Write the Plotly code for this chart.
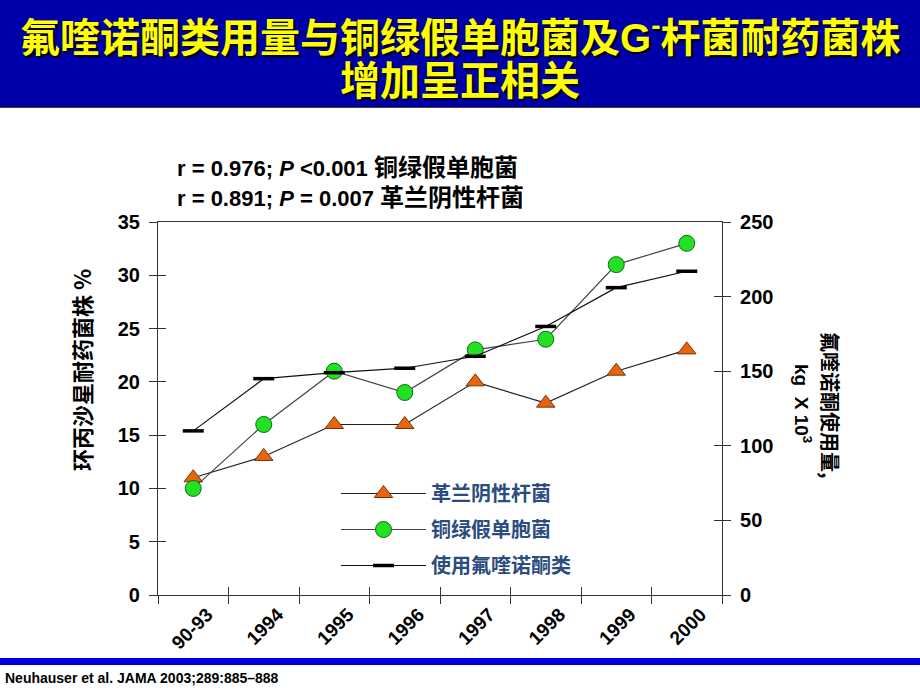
import plotly.graph_objects as go

categories = ["90-93", "1994", "1995", "1996", "1997", "1998", "1999", "2000"]
gram_negative = [11, 13, 16, 16, 20, 18, 21, 23]
pseudomonas = [10, 16, 21, 19, 23, 24, 31, 33]
fq_usage = [110, 145, 149, 152, 160, 180, 206, 217]

left_ticks = [0, 5, 10, 15, 20, 25, 30, 35]
right_ticks = [0, 50, 100, 150, 200, 250]

names = ["革兰阴性杆菌", "铜绿假单胞菌", "使用氟喹诺酮类"]

W, H = 920, 690
FONT = "Liberation Sans, Arial, Noto Sans CJK SC"
CJK = "Noto Sans CJK SC, Liberation Sans"

def px(x):
    return x / W

def py(y):
    return 1 - y / H

fig = go.Figure()

fig.add_trace(go.Scatter(
    x=categories, y=gram_negative, name=names[0], legendgroup="g1",
    mode="lines+markers",
    line=dict(color="#222222", width=1.2),
    marker=dict(symbol="triangle-up", size=16, color="#E8650F",
                line=dict(color="#7A3300", width=1)),
))
fig.add_trace(go.Scatter(
    x=categories, y=pseudomonas, name=names[1], legendgroup="g2",
    mode="lines+markers",
    line=dict(color="#444444", width=1.2),
    marker=dict(symbol="circle", size=16, color="#22E022",
                line=dict(color="#0A6A0A", width=1)),
))
fig.add_trace(go.Scatter(
    x=categories, y=fq_usage, name=names[2], legendgroup="g3",
    yaxis="y2", mode="lines+markers",
    line=dict(color="#111111", width=1.2),
    marker=dict(symbol="line-ew", size=15, color="black",
                line=dict(color="black", width=3.5)),
))
# helper traces so that the inner-tick overlay axes are created
fig.add_trace(go.Scatter(x=[], y=[], xaxis="x2", yaxis="y", showlegend=False, hoverinfo="skip"))
fig.add_trace(go.Scatter(x=categories, y=[None]*len(categories), yaxis="y3", showlegend=False, hoverinfo="skip"))
fig.add_trace(go.Scatter(x=categories, y=[None]*len(categories), yaxis="y4", showlegend=False, hoverinfo="skip"))

xdom = [px(158), px(722)]
ydom = [py(595), py(222)]

axis_common = dict(showgrid=False, zeroline=False, showline=True,
                   linecolor="#333333", linewidth=1.2, tickcolor="#333333",
                   tickwidth=1.2, ticklen=8, automargin=False)

fig.update_layout(
    width=W, height=H, autosize=False,
    margin=dict(l=0, r=0, t=0, b=0, pad=0),
    paper_bgcolor="white", plot_bgcolor="white",
    font=dict(family=FONT, color="black"),
    showlegend=True,
    legend=dict(x=px(336), y=py(474), xanchor="left", yanchor="top",
                bgcolor="rgba(0,0,0,0)", tracegroupgap=7, itemwidth=85,
                font=dict(family=CJK, size=20, color="#2B4C7E", weight="bold")),
    xaxis=dict(domain=xdom, type="category", range=[-0.5, 7.5],
               tickson="boundaries", ticks="outside", tickangle=-45,
               ticklabelshift=14,
               tickfont=dict(family=FONT, size=19, weight="bold"),
               mirror=True, anchor="y", **axis_common),
    xaxis2=dict(domain=xdom, overlaying="x", anchor="y", range=[-0.5, 7.5],
                tickvals=[i - 0.5 for i in range(len(categories) + 1)],
                ticks="inside", showticklabels=False, **axis_common),
    yaxis=dict(domain=ydom, range=[0, 35], tickvals=left_ticks, ticks="outside",
               tickfont=dict(family=FONT, size=20, weight="bold"),
               anchor="x", ticklabelstandoff=5, **axis_common),
    yaxis2=dict(domain=ydom, range=[0, 250], tickvals=right_ticks, ticks="outside",
                overlaying="y", side="right", anchor="x",
                tickfont=dict(family=FONT, size=20, weight="bold"),
                ticklabelstandoff=5, **axis_common),
    yaxis3=dict(domain=ydom, range=[0, 35], tickvals=left_ticks, ticks="inside",
                overlaying="y", side="left", anchor="x", showticklabels=False,
                **axis_common),
    yaxis4=dict(domain=ydom, range=[0, 250], tickvals=right_ticks, ticks="inside",
                overlaying="y", side="right", anchor="x", showticklabels=False,
                **axis_common),
)

shapes = [
    dict(type="rect", xref="paper", yref="paper", x0=0, x1=1, y0=py(107), y1=1,
         fillcolor="#0000AA", line=dict(width=0), layer="below"),
    dict(type="line", xref="paper", yref="paper", x0=0, x1=1, y0=py(107), y1=py(107),
         line=dict(color="#000044", width=1.5)),
    dict(type="rect", xref="paper", yref="paper", x0=0, x1=1, y0=py(665), y1=py(658),
         fillcolor="#0000DD", line=dict(width=0), layer="below"),
]
fig.update_layout(shapes=shapes)

title_font = dict(family=FONT, size=40, color="#FFFF00", weight="bold",
                  shadow="2px 2px 2px #000000")
anns = [
    dict(text="氟喹诺酮类用量与铜绿假单胞菌及G<sup>-</sup>杆菌耐药菌株",
         x=0.5, y=py(35), font=title_font),
    dict(text="增加呈正相关", x=0.5, y=py(81), font=title_font),
    dict(text="r = 0.976; <i>P</i> &lt;0.001 <span style=\"font-size:24px\">铜绿假单胞菌</span>",
         x=px(175), y=py(167), xanchor="left",
         font=dict(family=FONT, size=22, weight="bold", color="black")),
    dict(text="r = 0.891; <i>P</i> = 0.007 <span style=\"font-size:24px\">革兰阴性杆菌</span>",
         x=px(175), y=py(197), xanchor="left",
         font=dict(family=FONT, size=22, weight="bold", color="black")),
    dict(text="环丙沙星耐药菌株 %", x=px(81), y=py(370), textangle=-90,
         font=dict(family=CJK, size=22, weight="bold", color="black")),
    dict(text="氟喹诺酮使用量,", x=px(831), y=py(405), textangle=90,
         font=dict(family=CJK, size=20, weight="bold", color="black")),
    dict(text="kg  X 10<sup>3</sup>", x=px(803), y=py(403), textangle=90,
         font=dict(family=FONT, size=19, weight="bold", color="black")),
    dict(text="Neuhauser et al. JAMA 2003;289:885–888", x=px(3), y=py(678),
         xanchor="left",
         font=dict(family=FONT, size=14, weight="bold", color="black")),
]
for a in anns:
    a.setdefault("xref", "paper")
    a.setdefault("yref", "paper")
    a.setdefault("showarrow", False)
    a.setdefault("xanchor", "center")
    a.setdefault("yanchor", "middle")
fig.update_layout(annotations=anns)

fig.write_html(
    "out.html",
    config={"displayModeBar": False},
    post_script="document.documentElement.style.margin='0';"
                "document.body.style.margin='0';"
                "document.body.style.overflow='hidden';",
)
